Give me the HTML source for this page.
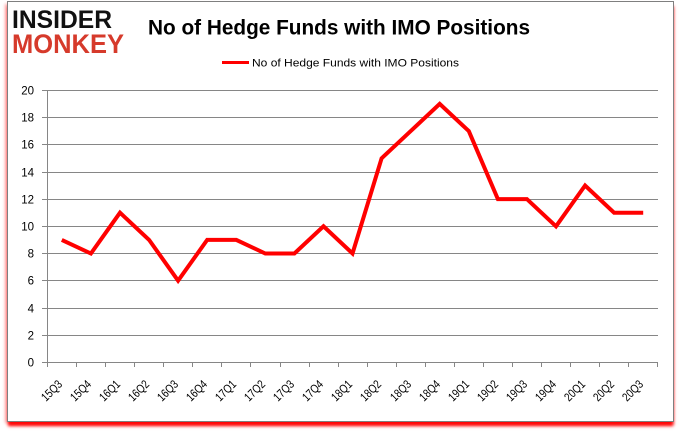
<!DOCTYPE html>
<html><head><meta charset="utf-8"><style>
html,body{margin:0;padding:0;background:#fff;width:680px;height:433px;overflow:hidden}
.frame{position:absolute;left:7px;top:1px;width:665px;height:419px;border:1px solid #7f7f7f;background:#fff;box-shadow:0 5px 3px -1px rgba(255,0,0,0.95),-3px 2px 3px -1px rgba(255,0,0,0.35),1px 4px 3px -1px rgba(255,0,0,0.5)}
svg{position:absolute;left:0;top:0}
</style></head><body>
<div class="frame"></div>
<svg width="680" height="433" viewBox="0 0 680 433" xmlns="http://www.w3.org/2000/svg" font-family="'Liberation Sans', sans-serif">
<text x="12" y="28" font-size="25" font-weight="bold" fill="#111" textLength="100" lengthAdjust="spacingAndGlyphs">INSIDER</text>
<text x="12" y="53" font-size="27" font-weight="bold" fill="#d63a2b" textLength="112" lengthAdjust="spacingAndGlyphs">MONKEY</text>
<text x="148" y="34.5" font-size="21" font-weight="bold" fill="#000" textLength="382" lengthAdjust="spacingAndGlyphs">No of Hedge Funds with IMO Positions</text>
<line x1="222" y1="62.5" x2="249" y2="62.5" stroke="#ff0000" stroke-width="3"/>
<text x="252" y="66.5" font-size="11" fill="#000" textLength="207" lengthAdjust="spacingAndGlyphs">No of Hedge Funds with IMO Positions</text>
<g stroke="#868686" stroke-width="1">
<line x1="47" y1="90.5" x2="658" y2="90.5"/>
<line x1="47" y1="117.5" x2="658" y2="117.5"/>
<line x1="47" y1="144.5" x2="658" y2="144.5"/>
<line x1="47" y1="172.5" x2="658" y2="172.5"/>
<line x1="47" y1="199.5" x2="658" y2="199.5"/>
<line x1="47" y1="226.5" x2="658" y2="226.5"/>
<line x1="47" y1="253.5" x2="658" y2="253.5"/>
<line x1="47" y1="280.5" x2="658" y2="280.5"/>
<line x1="47" y1="308.5" x2="658" y2="308.5"/>
<line x1="47" y1="335.5" x2="658" y2="335.5"/>
<line x1="47" y1="362.5" x2="658" y2="362.5"/>
<line x1="47.5" y1="90" x2="47.5" y2="363"/>
<line x1="42" y1="90.5" x2="47" y2="90.5"/>
<line x1="42" y1="117.5" x2="47" y2="117.5"/>
<line x1="42" y1="144.5" x2="47" y2="144.5"/>
<line x1="42" y1="172.5" x2="47" y2="172.5"/>
<line x1="42" y1="199.5" x2="47" y2="199.5"/>
<line x1="42" y1="226.5" x2="47" y2="226.5"/>
<line x1="42" y1="253.5" x2="47" y2="253.5"/>
<line x1="42" y1="280.5" x2="47" y2="280.5"/>
<line x1="42" y1="308.5" x2="47" y2="308.5"/>
<line x1="42" y1="335.5" x2="47" y2="335.5"/>
<line x1="42" y1="362.5" x2="47" y2="362.5"/>
</g>
<g font-size="11.5" fill="#000" text-anchor="end">
<text x="34" y="94.5">20</text>
<text x="34" y="121.5">18</text>
<text x="34" y="148.5">16</text>
<text x="34" y="176.5">14</text>
<text x="34" y="203.5">12</text>
<text x="34" y="230.5">10</text>
<text x="34" y="257.5">8</text>
<text x="34" y="284.5">6</text>
<text x="34" y="312.5">4</text>
<text x="34" y="339.5">2</text>
<text x="34" y="366.5">0</text>
</g>
<g stroke="#868686" stroke-width="1">
<line x1="47.5" y1="362" x2="47.5" y2="367"/>
<line x1="76.5" y1="362" x2="76.5" y2="367"/>
<line x1="105.5" y1="362" x2="105.5" y2="367"/>
<line x1="134.5" y1="362" x2="134.5" y2="367"/>
<line x1="163.5" y1="362" x2="163.5" y2="367"/>
<line x1="192.5" y1="362" x2="192.5" y2="367"/>
<line x1="221.5" y1="362" x2="221.5" y2="367"/>
<line x1="250.5" y1="362" x2="250.5" y2="367"/>
<line x1="280.5" y1="362" x2="280.5" y2="367"/>
<line x1="309.5" y1="362" x2="309.5" y2="367"/>
<line x1="338.5" y1="362" x2="338.5" y2="367"/>
<line x1="367.5" y1="362" x2="367.5" y2="367"/>
<line x1="396.5" y1="362" x2="396.5" y2="367"/>
<line x1="425.5" y1="362" x2="425.5" y2="367"/>
<line x1="454.5" y1="362" x2="454.5" y2="367"/>
<line x1="483.5" y1="362" x2="483.5" y2="367"/>
<line x1="512.5" y1="362" x2="512.5" y2="367"/>
<line x1="541.5" y1="362" x2="541.5" y2="367"/>
<line x1="570.5" y1="362" x2="570.5" y2="367"/>
<line x1="599.5" y1="362" x2="599.5" y2="367"/>
<line x1="628.5" y1="362" x2="628.5" y2="367"/>
<line x1="657.5" y1="362" x2="657.5" y2="367"/>
</g>
<g font-size="12" fill="#000" text-anchor="end">
<text transform="translate(63,385) rotate(-45)" textLength="24" lengthAdjust="spacingAndGlyphs">15Q3</text>
<text transform="translate(92,385) rotate(-45)" textLength="24" lengthAdjust="spacingAndGlyphs">15Q4</text>
<text transform="translate(121,385) rotate(-45)" textLength="24" lengthAdjust="spacingAndGlyphs">16Q1</text>
<text transform="translate(150,385) rotate(-45)" textLength="24" lengthAdjust="spacingAndGlyphs">16Q2</text>
<text transform="translate(179,385) rotate(-45)" textLength="24" lengthAdjust="spacingAndGlyphs">16Q3</text>
<text transform="translate(208,385) rotate(-45)" textLength="24" lengthAdjust="spacingAndGlyphs">16Q4</text>
<text transform="translate(237,385) rotate(-45)" textLength="24" lengthAdjust="spacingAndGlyphs">17Q1</text>
<text transform="translate(266,385) rotate(-45)" textLength="24" lengthAdjust="spacingAndGlyphs">17Q2</text>
<text transform="translate(295,385) rotate(-45)" textLength="24" lengthAdjust="spacingAndGlyphs">17Q3</text>
<text transform="translate(324,385) rotate(-45)" textLength="24" lengthAdjust="spacingAndGlyphs">17Q4</text>
<text transform="translate(353,385) rotate(-45)" textLength="24" lengthAdjust="spacingAndGlyphs">18Q1</text>
<text transform="translate(382,385) rotate(-45)" textLength="24" lengthAdjust="spacingAndGlyphs">18Q2</text>
<text transform="translate(412,385) rotate(-45)" textLength="24" lengthAdjust="spacingAndGlyphs">18Q3</text>
<text transform="translate(441,385) rotate(-45)" textLength="24" lengthAdjust="spacingAndGlyphs">18Q4</text>
<text transform="translate(470,385) rotate(-45)" textLength="24" lengthAdjust="spacingAndGlyphs">19Q1</text>
<text transform="translate(499,385) rotate(-45)" textLength="24" lengthAdjust="spacingAndGlyphs">19Q2</text>
<text transform="translate(528,385) rotate(-45)" textLength="24" lengthAdjust="spacingAndGlyphs">19Q3</text>
<text transform="translate(557,385) rotate(-45)" textLength="24" lengthAdjust="spacingAndGlyphs">19Q4</text>
<text transform="translate(586,385) rotate(-45)" textLength="24" lengthAdjust="spacingAndGlyphs">20Q1</text>
<text transform="translate(615,385) rotate(-45)" textLength="24" lengthAdjust="spacingAndGlyphs">20Q2</text>
<text transform="translate(644,385) rotate(-45)" textLength="24" lengthAdjust="spacingAndGlyphs">20Q3</text>
</g>
<polyline fill="none" stroke="#ff0000" stroke-width="4" stroke-linejoin="miter" stroke-linecap="butt"
points="61.8,239.9 90.9,253.5 120.0,212.7 149.1,239.9 178.1,280.7 207.2,239.9 236.3,239.9 265.3,253.5 294.4,253.5 323.5,226.3 352.5,253.5 381.6,158.3 410.7,131.1 439.7,103.9 468.8,131.1 497.9,199.1 526.9,199.1 556.0,226.3 585.1,185.5 614.1,212.7 643.2,212.7"/>
</svg>
</body></html>
